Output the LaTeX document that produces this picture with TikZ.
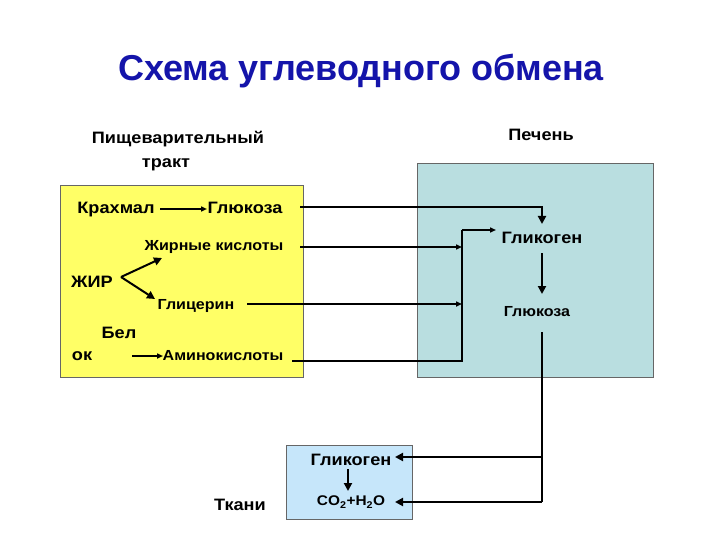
\documentclass[tikz,border=0pt]{standalone}
\usepackage{fontspec}
\setmainfont{Liberation Sans}
\newfontfamily\wf{Liberation Sans}[FakeStretch=1.1]
\usetikzlibrary{arrows.meta}
\definecolor{titleblue}{RGB}{20,20,170}
\definecolor{gutyellow}{RGB}{255,255,102}
\definecolor{liverblue}{RGB}{185,222,224}
\definecolor{tissueblue}{RGB}{198,230,250}
\tikzset{
  lbl/.style={font=\wf\bfseries\fontsize{16.5}{18}\selectfont, inner sep=0pt, text height=1.5ex, text depth=0pt},
  small/.style={font=\wf\bfseries\fontsize{14.6}{16}\selectfont, inner sep=0pt, text height=1.5ex, text depth=0pt},
  conn/.style={line width=2pt},
  arr/.style={line width=2pt, -{Triangle[length=8pt,width=8pt]}},
  sarr/.style={line width=2pt, -{Triangle[length=6pt,width=5pt]}},
  area/.style={draw=black!60, line width=0.6pt}
}
\begin{document}
\begin{tikzpicture}[x=1pt,y=-1pt]
\useasboundingbox (0,0) rectangle (720,540);
\fill[white] (0,0) rectangle (720,540);
% areas
\draw[area, fill=gutyellow] (60,185) rectangle (303,377);
\draw[area, fill=liverblue] (417,163) rectangle (653,377);
\draw[area, fill=tissueblue] (286,445) rectangle (412,519);
% title and headers
\node[font=\bfseries\fontsize{36}{40}\selectfont, text=titleblue] (title) at (361,71) {Схема углеводного обмена};
\node[lbl] (pish) at (178,140) {Пищеварительный};
\node[lbl] (trakt) at (166,164) {тракт};
\node[lbl] (pechen) at (541,137) {Печень};
% gut labels
\node[lbl] (krahmal) at (116,210) {Крахмал};
\node[lbl] (gluk1) at (245,210) {Глюкоза};
\node[small] (zhk) at (214,247) {Жирные кислоты};
\node[lbl] (zhir) at (92,284) {ЖИР};
\node[small] (glic) at (196,306) {Глицерин};
\node[lbl] (bel) at (119,335) {Бел};
\node[lbl] (ok) at (82,357) {ок};
\node[small] (amino) at (223,357) {Аминокислоты};
% liver labels
\node[lbl] (glikogen1) at (542,240) {Гликоген};
\node[small] (gluk2) at (537,313) {Глюкоза};
% tissue labels
\node[lbl] (glikogen2) at (351,462) {Гликоген};
\node[small, font=\wf\bfseries\fontsize{14}{16}\selectfont] (co2) at (351,502) {CO\textsubscript{2}+H\textsubscript{2}O};
\node[lbl] (tkani) at (240,507) {Ткани};
% coordinates
\coordinate (k0) at (160,209);
\coordinate (k1) at (207,209);
\coordinate (cj) at (121,277);
\coordinate (zt) at (162,258);
\coordinate (gt) at (155,299);
\coordinate (ok0) at (132,356);
\coordinate (ok1) at (163,356);
\coordinate (s1) at (300,207);
\coordinate (s2) at (300,247);
\coordinate (s3) at (247,304);
\coordinate (s4) at (292,361);
\coordinate (g1top) at (542,207);
\coordinate (g1tip) at (542,224);
\coordinate (bus) at (462,247);
\coordinate (bus2) at (462,304);
\coordinate (busTop) at (462,230);
\coordinate (busBot) at (462,361);
\coordinate (btip) at (496,230);
\coordinate (lv0) at (542,253);
\coordinate (lv1) at (542,294);
\coordinate (out0) at (542,332);
\coordinate (vdown1) at (542,457);
\coordinate (vdown2) at (542,502);
\coordinate (t1) at (395,457);
\coordinate (t2) at (395,502);
\coordinate (tg0) at (348,469);
\coordinate (tg1) at (348,491);
% gut arrows
\draw[sarr] (k0) -- (k1);
\draw[arr] (cj) -- (zt);
\draw[arr] (cj) -- (gt);
\draw[sarr] (ok0) -- (ok1);
% to liver
\draw[arr] (s1) -- (g1top) -- (g1tip);
\draw[sarr] (s2) -- (bus);
\draw[sarr] (s3) -- (bus2);
\draw[conn] (s4) -- (busBot) -- (busTop);
\draw[sarr] (busTop) -- (btip);
\draw[arr] (lv0) -- (lv1);
% to tissues
\draw[conn] (out0) -- (vdown2);
\draw[arr] (vdown1) -- (t1);
\draw[arr] (vdown2) -- (t2);
\draw[arr] (tg0) -- (tg1);
\end{tikzpicture}
\end{document}
